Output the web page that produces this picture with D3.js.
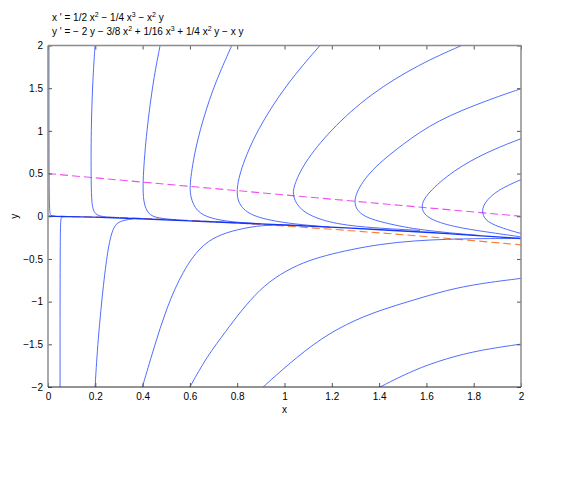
<!DOCTYPE html>
<html>
<head>
<meta charset="utf-8">
<script src="https://cdn.jsdelivr.net/npm/d3@7"></script>
<style>
  body { margin: 0; background: #fff; }
  svg { display: block; font-family: "Liberation Sans", Arial, sans-serif; }
  .tick text { font-size: 10px; fill: #000; }
</style>
</head>
<body>
<svg id="chart" width="575" height="484"></svg>
<script>
// axis ticks
const xTicks = [0, 0.2, 0.4, 0.6, 0.8, 1, 1.2, 1.4, 1.6, 1.8, 2];
const yTicks = [-2, -1.5, -1, -0.5, 0, 0.5, 1, 1.5, 2];

// title lines: [text, superscript] pieces
const titleLine1 = [["x ' = 1/2 x", "2"], [" \u2212 1/4 x", "3"], [" \u2212 x", "2"], [" y", null]];
const titleLine2 = [["y ' = \u2212 2 y \u2212 3/8 x", "2"], [" + 1/16 x", "3"], [" + 1/4 x", "2"], [" y \u2212 x y", null]];

// nullclines
const nullX = [[0, 0.5], [2, 0]];
const nullY = [[0, 0], [0.25, -0.01], [0.5, -0.035], [0.75, -0.071], [1, -0.114],
               [1.25, -0.162], [1.5, -0.215], [1.75, -0.273], [2, -0.335]];

// slow manifold along y ~ 0 (many trajectories overlap here)
const mainTraj = [[0, 0], [0.19, -0.008], [0.389, -0.027], [0.6, -0.055], [0.811, -0.078],
                  [1.023, -0.105], [1.404, -0.155], [1.685, -0.202], [2, -0.26]];

// trajectories entering from the top / right
const traj1 = [[0.004, 2], [0.004, 0.05], [0.01, 0.005], [0.03, 0]];
const traj2 = [[0.199, 2], [0.189, 1.59], [0.182, 1.006], [0.182, 0.421], [0.185, 0.109],
               [0.199, 0.023], [0.227, -0.008], [0.3, -0.015]];
const traj3 = [[0.474, 2], [0.445, 1.591], [0.417, 1.006], [0.4, 0.421], [0.403, 0.152],
               [0.424, 0.023], [0.46, -0.023], [0.56, -0.045]];
const traj4 = [[0.777, 2], [0.727, 1.688], [0.685, 1.396], [0.629, 0.889], [0.6, 0.421],
               [0.6, 0.226], [0.629, 0.05], [0.685, -0.023], [0.77, -0.067], [0.9, -0.088]];
const traj5 = [[1.15, 2], [1.009, 1.552], [0.882, 1.006], [0.812, 0.538], [0.794, 0.265],
               [0.812, 0.109], [0.868, -0.008], [1.009, -0.085], [1.192, -0.128]];
const traj6 = [[1.749, 2], [1.573, 1.786], [1.362, 1.435], [1.192, 1.006], [1.08, 0.616],
               [1.037, 0.343], [1.035, 0.226], [1.066, 0.07], [1.15, -0.047], [1.291, -0.125],
               [1.573, -0.166]];
const traj7 = [[2, 1.494], [1.855, 1.357], [1.644, 1.123], [1.502, 0.85], [1.362, 0.538],
               [1.298, 0.265], [1.295, 0.109], [1.333, -0.008], [1.432, -0.085], [1.573, -0.164],
               [1.827, -0.226]];
const traj8 = [[2, 0.909], [1.855, 0.752], [1.714, 0.538], [1.601, 0.265], [1.573, 0.109],
               [1.601, -0.027], [1.714, -0.125], [1.855, -0.184], [2, -0.242]];
const traj9 = [[2, 0.429], [1.897, 0.304], [1.841, 0.149], [1.834, 0.032], [1.855, -0.067],
               [1.925, -0.144], [2, -0.202]];

// trajectories entering from the bottom
const trajA = [[0.051, -2], [0.051, -0.03], [0.056, -0.006], [0.08, -0.004]];
const trajB = [[0.199, -2], [0.211, -1.45], [0.235, -0.77], [0.255, -0.35], [0.275, -0.13],
               [0.3, -0.055], [0.36, -0.03]];
const trajC = [[0.399, -2], [0.445, -1.567], [0.502, -1.061], [0.572, -0.632], [0.643, -0.359],
               [0.713, -0.23], [0.798, -0.155], [0.91, -0.1], [1.023, -0.105]];
const trajD = [[0.6, -2], [0.671, -1.646], [0.756, -1.333], [0.812, -1.123], [0.896, -0.854],
               [0.98, -0.678], [1.08, -0.538], [1.178, -0.456], [1.277, -0.392], [1.404, -0.327],
               [1.545, -0.287], [1.685, -0.269], [1.827, -0.261], [2, -0.261]];
const trajE = [[0.91, -2], [0.977, -1.83], [1.122, -1.489], [1.263, -1.255],
               [1.404, -1.099], [1.545, -0.982], [1.685, -0.865], [1.827, -0.787], [2, -0.728]];
const trajF = [[1.404, -2], [1.545, -1.801], [1.685, -1.664], [1.827, -1.567], [2, -1.497]];

const trajectories = [traj1, traj2, traj3, traj4, traj5, traj6, traj7, traj8, traj9,
                      trajA, trajB, trajC, trajD, trajE, trajF];

const colors = {
    traj: "#3d5cff",
    main: "#1536f5",
    nullX: "#ee4fee",
    nullY: "#ff7a2e",
    box: "#8c8c8c",
    bottom: "#2b2b2b"
};

const svg = d3.select("#chart");
const L = 48, R = 521, T = 45.5, B = 387;

const x = d3.scaleLinear().domain([0, 2]).range([L, R]);
const y = d3.scaleLinear().domain([-2, 2]).range([B, T]);

svg.append("defs").append("clipPath").attr("id", "clip")
    .append("rect").attr("x", L).attr("y", T).attr("width", R - L).attr("height", B - T);

const line = d3.line().x(d => x(d[0])).y(d => y(d[1])).curve(d3.curveBasis);
const plot = svg.append("g").attr("clip-path", "url(#clip)");

// nullclines
plot.append("path").datum(nullX).attr("d", d3.line().x(d => x(d[0])).y(d => y(d[1])))
    .attr("fill", "none").attr("stroke", colors.nullX).attr("stroke-width", 1.1).attr("stroke-dasharray", "8,4");
plot.append("path").datum(nullY).attr("d", line)
    .attr("fill", "none").attr("stroke", colors.nullY).attr("stroke-width", 1.1).attr("stroke-dasharray", "8,4");

// trajectories
trajectories.forEach(t => {
    plot.append("path").datum(t).attr("d", line)
        .attr("fill", "none").attr("stroke", colors.traj).attr("stroke-width", 0.9);
});
plot.append("path").datum(mainTraj).attr("d", line)
    .attr("fill", "none").attr("stroke", colors.main).attr("stroke-width", 1.4);

// axes, ticks pointing inward on all four sides
const ax = svg.append("g");
const xb = ax.append("g").attr("transform", `translate(0,${B})`)
    .call(d3.axisBottom(x).tickValues(xTicks).tickSize(-4).tickPadding(8).tickFormat(d3.format("~g")));
const yl = ax.append("g").attr("transform", `translate(${L},0)`)
    .call(d3.axisLeft(y).tickValues(yTicks).tickSize(-4).tickPadding(5).tickFormat(d => d < 0 ? "\u2212" + Math.abs(d) : d));
const xt = ax.append("g").attr("transform", `translate(0,${T})`)
    .call(d3.axisTop(x).tickValues(xTicks).tickSize(-4).tickFormat(""));
const yr = ax.append("g").attr("transform", `translate(${R},0)`)
    .call(d3.axisRight(y).tickValues(yTicks).tickSize(-4).tickFormat(""));

[xb, yl, xt, yr].forEach(a => {
    a.select(".domain").remove();
    a.selectAll(".tick line").attr("stroke", "#555");
});
xb.selectAll(".tick text").attr("dy", "0.5em");

ax.append("line").attr("x1", L).attr("x2", R).attr("y1", T).attr("y2", T).attr("stroke", colors.box).attr("stroke-width", 1.5);
ax.append("line").attr("x1", R).attr("x2", R).attr("y1", T).attr("y2", B).attr("stroke", colors.box).attr("stroke-width", 1.5);
ax.append("line").attr("x1", L).attr("x2", L).attr("y1", T).attr("y2", B).attr("stroke", colors.box).attr("stroke-width", 1.5);
ax.append("line").attr("x1", L).attr("x2", R).attr("y1", B).attr("y2", B).attr("stroke", colors.bottom).attr("stroke-width", 1.2);

// axis labels
svg.append("text").attr("x", (L + R) / 2).attr("y", 413).attr("text-anchor", "middle")
    .style("font-size", "10px").text("x");
svg.append("text").attr("transform", `translate(18,${y(0)}) rotate(-90)`).attr("text-anchor", "middle")
    .style("font-size", "10px").text("y");

// title, superscripts raised with dy and dropped back on the next piece
function titleRow(parts, ty) {
    const t = svg.append("text").attr("x", 52).attr("y", ty).style("font-size", "10px");
    let back = 0;
    parts.forEach(([s, sup]) => {
        t.append("tspan").attr("dy", back).text(s);
        back = 0;
        if (sup) {
            t.append("tspan").attr("dy", -4).style("font-size", "7px").text(sup);
            back = 4;
        }
    });
}
titleRow(titleLine1, 20.5);
titleRow(titleLine2, 35);
</script>
</body>
</html>
